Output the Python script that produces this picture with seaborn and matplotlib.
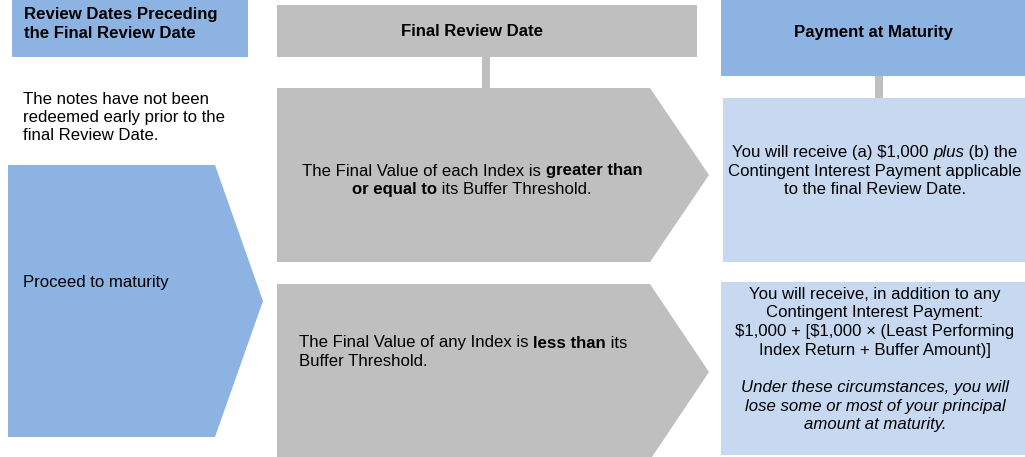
import matplotlib
matplotlib.use("Agg")
import matplotlib.pyplot as plt
from matplotlib.patches import Polygon
import seaborn as sns

sns.set_theme(style="white")
plt.rcParams['font.family'] = ['Liberation Sans', 'DejaVu Sans']
plt.rcParams['text.parse_math'] = False

W, H = 1025, 457
FS = 12.1

# colours
HEADER_BLUE = "#8DB3E2"
LIGHT_BLUE = "#C6D9F1"
GRAY = "#BFBFBF"

# texts (segments: text, weight, style)
header_left = ["Review Dates Preceding", "the Final Review Date"]
header_mid = ["Final Review Date"]
header_right = ["Payment at Maturity"]
left_note = ["The notes have not been", "redeemed early prior to the", "final Review Date."]
left_arrow = ["Proceed to maturity"]
gray_up = [
    [("The Final Value of each Index is ", "normal", "normal"), ("greater than", "bold", "normal")],
    [("or equal to", "bold", "normal"), (" its Buffer Threshold.", "normal", "normal")],
]
gray_down = [
    [("The Final Value of any Index is ", "normal", "normal"), ("less than", "bold", "normal"), (" its", "normal", "normal")],
    [("Buffer Threshold.", "normal", "normal")],
]
right_up = [
    [("You will receive (a) $1,000 ", "normal", "normal"), ("plus", "normal", "italic"), (" (b) the", "normal", "normal")],
    [("Contingent Interest Payment applicable", "normal", "normal")],
    [("to the final Review Date.", "normal", "normal")],
]
right_down = [
    [("You will receive, in addition to any", "normal", "normal")],
    [("Contingent Interest Payment:", "normal", "normal")],
    [("$1,000 + [$1,000 \u00d7 (Least Performing", "normal", "normal")],
    [("Index Return + Buffer Amount)]", "normal", "normal")],
    None,
    [("Under these circumstances, you will", "normal", "italic")],
    [("lose some or most of your principal", "normal", "italic")],
    [("amount at maturity.", "normal", "italic")],
]

fig = plt.figure(figsize=(W / 100, H / 100), dpi=100)
ax = fig.add_axes([0, 0, 1, 1])
ax.set_xlim(0, W)
ax.set_ylim(H, 0)
ax.axis("off")
fig.canvas.draw()
renderer = fig.canvas.get_renderer()


def rect(x0, y0, x1, y1, color):
    ax.add_patch(Polygon([(x0, y0), (x1, y0), (x1, y1), (x0, y1)], closed=True,
                         facecolor=color, edgecolor="none"))


def pent(x0, xb, xt, y0, y1, color):
    ym = (y0 + y1) / 2
    ax.add_patch(Polygon([(x0, y0), (xb, y0), (xt, ym), (xb, y1), (x0, y1)], closed=True,
                         facecolor=color, edgecolor="none"))


def seg_width(s, weight, style):
    t = ax.text(0, 0, "|" + s + "|", fontsize=FS, fontweight=weight, fontstyle=style)
    w1 = t.get_window_extent(renderer).width
    t.remove()
    t = ax.text(0, 0, "||", fontsize=FS, fontweight=weight, fontstyle=style)
    w2 = t.get_window_extent(renderer).width
    t.remove()
    return w1 - w2


def rich(x, y, segs, ha="left"):
    widths = [seg_width(*s) for s in segs]
    total = sum(widths)
    cx = x - total / 2 if ha == "center" else x
    for (s, w, st), wd in zip(segs, widths):
        ax.text(cx, y, s, fontsize=FS, fontweight=w, fontstyle=st, ha="left", va="center",
                color="black")
        cx += wd


def lines(x, y0, dy, rows, ha="left"):
    for i, r in enumerate(rows):
        if r is None:
            continue
        if isinstance(r, str):
            r = [(r, "normal", "normal")]
        rich(x, y0 + i * dy, r, ha=ha)


# shapes
rect(12, 0, 248, 57, HEADER_BLUE)
rect(277, 5, 697, 57, GRAY)
rect(721, 0, 1025, 76, HEADER_BLUE)
rect(482, 57, 490, 88, GRAY)
rect(875, 76, 883, 98, GRAY)
pent(8, 215, 263, 165, 437, HEADER_BLUE)
pent(277, 650, 709, 88, 262, GRAY)
pent(277, 650, 709, 284, 460, GRAY)
rect(723, 98, 1025, 262, LIGHT_BLUE)
rect(721, 282, 1025, 455, LIGHT_BLUE)

# texts
lines(24, 15, 18.5, [[(s, "bold", "normal")] for s in header_left])
lines(472, 32, 18.5, [[(s, "bold", "normal")] for s in header_mid], ha="center")
lines(874, 33, 18.5, [[(s, "bold", "normal")] for s in header_right], ha="center")
lines(23, 99, 18.5, left_note)
lines(23, 282, 18.5, left_arrow)
lines(472, 171, 18.5, gray_up, ha="center")
lines(299, 343, 18.5, gray_down)
lines(875, 153, 18.3, right_up, ha="center")
lines(875, 294, 18.7, right_down, ha="center")

fig.savefig("out.png", dpi=100)
